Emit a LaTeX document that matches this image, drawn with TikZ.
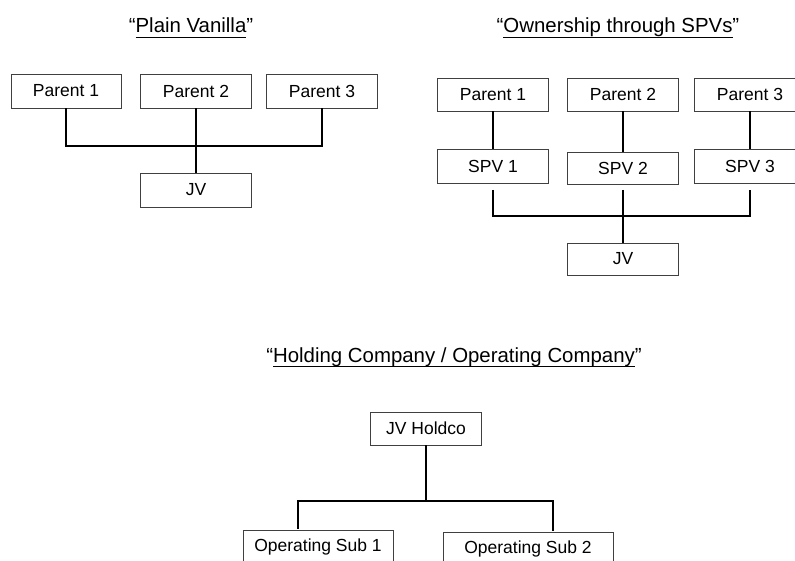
\documentclass[tikz,border=0pt]{standalone}
\usepackage{fontspec}
\setmainfont{Liberation Sans}
\newcommand\myul[1]{\setbox0\hbox{#1}\rlap{\rule[-5pt]{\wd0}{1.3pt}}\box0}
\begin{document}
\begin{tikzpicture}[x=1pt,y=-1pt,
  box/.style={draw=black!75, line width=0.9pt, minimum width=111pt, minimum height=33pt,
    inner sep=0pt, font=\fontsize{17.5}{20}\selectfont},
  conn/.style={draw=black, line width=1.8pt},
  ttl/.style={anchor=base, inner sep=0pt, font=\fontsize{20.4}{24}\selectfont}]
\useasboundingbox (0,0) rectangle (795,561);
\clip (0,0) rectangle (795,561);
\fill[white] (0,0) rectangle (795,561);

% Titles
\node[ttl] (t1) at (191,33) {“\myul{Plain Vanilla}”};
\node[ttl] (t2) at (618,33) {“\myul{Ownership through SPVs}”};
\node[ttl] (t3) at (454,362) {“\myul{Holding Company / Operating Company}”};

% Plain Vanilla
\node[box, minimum width=110pt, minimum height=34pt] (p1) at (66,91) {Parent 1};
\node[box, minimum height=34pt] (p2) at (196,91) {Parent 2};
\node[box, minimum height=34pt] (p3) at (322,91) {Parent 3};
\node[box, minimum height=34pt] (jv) at (196,190) {JV};
\coordinate (busl) at (196,146);
\draw[conn] (p1.south) |- (busl) -| (p3.south);
\draw[conn] (p2.south) -- (jv.north);

% Ownership through SPVs
\node[box] (rp1) at (493,94.5) {Parent 1};
\node[box] (rp2) at (623,94.5) {Parent 2};
\node[box] (rp3) at (750,94.5) {Parent 3};
\node[box, minimum height=34pt] (s1) at (493,166) {SPV 1};
\node[box, minimum height=32pt] (s2) at (623,168) {SPV 2};
\node[box, minimum height=34pt] (s3) at (750,166) {SPV 3};
\node[box, minimum height=32pt] (rjv) at (623,259) {JV};
\draw[conn] (rp1.south) -- (s1.north);
\draw[conn] (rp2.south) -- (s2.north);
\draw[conn] (rp3.south) -- (s3.north);
\coordinate (s1b) at (493,190);
\coordinate (s2b) at (623,190);
\coordinate (s3b) at (750,190);
\coordinate (busr) at (623,216);
\draw[conn] (s1b) |- (busr) -| (s3b);
\draw[conn] (s2b) -- (rjv.north);

% Holdco / Opco
\node[box] (h) at (426,428.5) {JV Holdco};
\node[box, minimum width=150pt] (o1) at (318,546.5) {Operating Sub 1};
\node[box, minimum width=170pt] (o2) at (528,548.5) {Operating Sub 2};
\coordinate (busb) at (426,501);
\coordinate (o1t) at (298,528.5);
\coordinate (o2t) at (553,531);
\draw[conn] (h.south) -- (busb);
\draw[conn] (o1t) |- (busb) -| (o2t);
\end{tikzpicture}
\end{document}
